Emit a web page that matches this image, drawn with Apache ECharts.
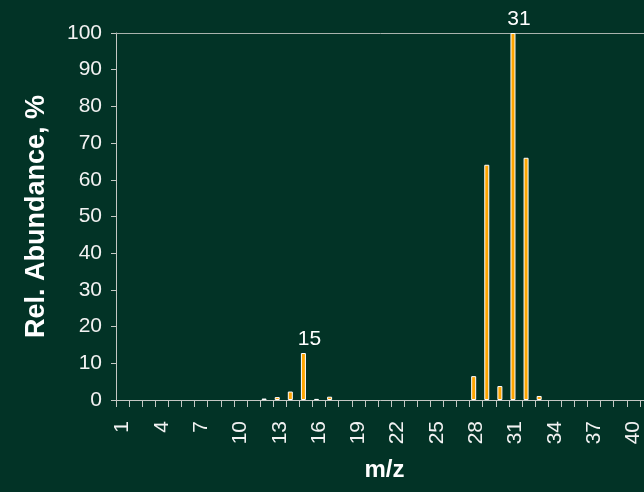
<!DOCTYPE html>
<html>
<head>
<meta charset="utf-8">
<script src="https://cdn.jsdelivr.net/npm/echarts@6/dist/echarts.min.js"></script>
<style>
html,body{margin:0;padding:0;background:#023326;}
#chart{width:644px;height:492px;}
</style>
</head>
<body>
<div id="chart"></div>
<script>
// m/z categories 1..41
const categories = ['1','2','3','4','5','6','7','8','9','10','11','12','13','14','15','16','17','18','19','20','21','22','23','24','25','26','27','28','29','30','31','32','33','34','35','36','37','38','39','40','41'];
// relative abundance (%)
const abundance = [0,0,0,0,0,0,0,0,0,0,0,0.4,0.8,2.3,12.8,0.3,0.9,0,0,0,0,0,0,0,0,0,0,6.5,64.1,3.8,100,66.0,1.1,0,0,0,0,0,0,0,0];
const labeledPeaks = ['15','31'];
const yTicks = [0,10,20,30,40,50,60,70,80,90,100];

const chart = echarts.init(document.getElementById('chart'), null, {renderer:'canvas'});
const font = 'Arial, "Liberation Sans", sans-serif';
const lineColor = '#c4c8c4';

const barData = abundance.map((v,i) => {
  const item = {value: v > 0 ? v : null};
  if (labeledPeaks.includes(categories[i])) {
    item.label = {show: true};
  }
  return item;
});

chart.setOption({
  backgroundColor: '#023326',
  animation: false,
  grid: {left: 116, top: 33, width: 537, height: 367, containLabel: false, outerBoundsMode: 'none'},
  xAxis: [{
    type: 'category',
    data: categories,
    name: 'm/z',
    nameLocation: 'middle',
    nameGap: 58,
    nameTextStyle: {color: '#ffffff', fontFamily: font, fontWeight: 'bold', fontSize: 24},
    boundaryGap: true,
    axisLine: {show: true, onZero: false, lineStyle: {color: lineColor, width: 1}},
    axisTick: {show: true, interval: 0, length: 7, lineStyle: {color: lineColor}},
    axisLabel: {interval: 2, rotate: 90, margin: 21, color: '#f2f2f2', fontFamily: font, fontSize: 21},
    splitLine: {show: false}
  }, {
    type: 'value',
    position: 'top',
    min: 0, max: 1,
    axisLine: {show: true, onZero: false, lineStyle: {color: '#a9b3ad', width: 1}},
    axisTick: {show: false},
    axisLabel: {show: false},
    splitLine: {show: false}
  }],
  yAxis: {
    type: 'value',
    min: yTicks[0], max: yTicks[yTicks.length-1], interval: 10,
    name: 'Rel. Abundance, %',
    nameLocation: 'middle',
    nameGap: 66,
    nameTextStyle: {color: '#ffffff', fontFamily: font, fontWeight: 'bold', fontSize: 27},
    axisLine: {show: true, lineStyle: {color: lineColor, width: 1}},
    axisTick: {show: true, length: 5, lineStyle: {color: lineColor}},
    axisLabel: {margin: 14, color: '#f2f2f2', fontFamily: font, fontSize: 21},
    splitLine: {show: false}
  },
  series: [{
    type: 'bar',
    xAxisIndex: 0,
    data: barData,
    barWidth: 5,
    barGap: '0%',
    itemStyle: {color: '#ffa500', borderColor: '#ffffff', borderWidth: 1},
    label: {show: false, position: 'top', distance: 3, offset: [6, 0], formatter: '{b}', color: '#ffffff', fontFamily: font, fontSize: 21}
  }, {
    type: 'bar',
    xAxisIndex: 0,
    data: [],
    barWidth: 5,
    barGap: '0%'
  }]
});
</script>
</body>
</html>
